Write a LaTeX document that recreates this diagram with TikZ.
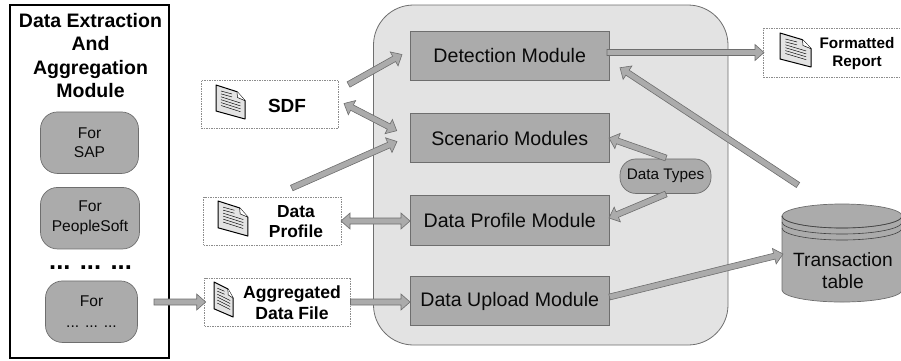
\documentclass[tikz,border=0pt]{standalone}
\usepackage{fontspec}
\setmainfont{Liberation Sans}
\usetikzlibrary{calc}
\definecolor{fillc}{HTML}{ABABAB}
\definecolor{edgec}{HTML}{6E6E6E}
\definecolor{panelc}{HTML}{E3E3E3}
\definecolor{dashc}{HTML}{8C8C8C}
\definecolor{inkc}{HTML}{0A0A0A}
\newcommand\fs[2]{\fontsize{#1}{#2}\selectfont}
\tikzset{
  x=1pt,y=-1pt,
  modbox/.style={draw=edgec,fill=fillc,line width=.8pt,inner sep=0pt,minimum width=199.5pt,minimum height=49.5pt,text=inkc,font=\fs{19.6}{22}},
  srcbox/.style={draw=edgec,fill=fillc,line width=.7pt,rounded corners=17pt,inner sep=0pt,minimum height=61.5pt,align=center,text=inkc},
  filebox/.style={draw=dashc,dash pattern=on 1.5pt off 1pt,line width=.5pt,inner sep=0pt},
  boldlabel/.style={align=center,text=black,inner sep=0pt},
  oneway/.style={draw=edgec,fill=fillc,line width=.6pt,line join=miter,
    to path={($(\tikztostart)!3pt!90:(\tikztotarget)$)
      -- ($(\tikztotarget)!9pt!(\tikztostart)!3pt!-90:(\tikztostart)$)
      -- ($(\tikztotarget)!9pt!(\tikztostart)!8pt!-90:(\tikztostart)$)
      -- (\tikztotarget)
      -- ($(\tikztotarget)!9pt!(\tikztostart)!8pt!90:(\tikztostart)$)
      -- ($(\tikztotarget)!9pt!(\tikztostart)!3pt!90:(\tikztostart)$)
      -- ($(\tikztostart)!3pt!-90:(\tikztotarget)$) -- cycle}},
  twoway/.style={draw=edgec,fill=fillc,line width=.6pt,
    to path={(\tikztostart)
      -- ($(\tikztostart)!9pt!(\tikztotarget)!8pt!90:(\tikztotarget)$)
      -- ($(\tikztostart)!9pt!(\tikztotarget)!3pt!90:(\tikztotarget)$)
      -- ($(\tikztotarget)!9pt!(\tikztostart)!3pt!-90:(\tikztostart)$)
      -- ($(\tikztotarget)!9pt!(\tikztostart)!8pt!-90:(\tikztostart)$)
      -- (\tikztotarget)
      -- ($(\tikztotarget)!9pt!(\tikztostart)!8pt!90:(\tikztostart)$)
      -- ($(\tikztotarget)!9pt!(\tikztostart)!3pt!90:(\tikztostart)$)
      -- ($(\tikztostart)!9pt!(\tikztotarget)!3pt!-90:(\tikztotarget)$)
      -- ($(\tikztostart)!9pt!(\tikztotarget)!8pt!-90:(\tikztotarget)$)
      -- cycle}},
  pics/docicon/.style={code={
    \draw[fill=panelc,draw=black,line width=1pt,line join=round]
      (0,0) -- (21,6.7) -- (29,15.7) -- (29,34) -- (0,26) -- cycle;
    \draw[fill=white,draw=black,line width=.5pt] (21,6.7) -- (21.5,12.5) -- (29,15.7);
    \foreach \k in {0,1,2,3,4,5}{
      \draw[black,line width=.45pt] (5,{6+\k*2.9}) -- ({\k>1?24.5:16},{(\k>1?12.2:9)+\k*2.9});}
  }}
}
\begin{document}
\begin{tikzpicture}
\useasboundingbox (0,0) rectangle (901,360);
% panel
\node[draw=edgec,fill=panelc,line width=.8pt,rounded corners=40pt,inner sep=0pt,minimum width=354.5pt,minimum height=340pt] (panel) at (550.75,175) {};
% extraction frame
\node[draw=black,line width=2pt,inner sep=0pt,minimum width=159.5pt,minimum height=353pt] (frame) at (89.25,181.5) {};
\node[boldlabel,font=\fs{19.5}{23.6}\bfseries] (title) at (90.5,55.5) {Data Extraction\\And\\Aggregation\\Module};
\node[srcbox,minimum width=98pt,font=\fs{15.6}{18.5}] (sap) at (89.5,142.7) {For\\SAP};
\node[srcbox,minimum width=99pt,font=\fs{15.6}{20}] (peoplesoft) at (90,218.2) {For\\PeopleSoft};
\node[font=\fs{25.5}{27}\bfseries,inner sep=0pt,text=black] (dots) at (90.5,268) {... ... ...};
\node[srcbox,minimum width=92pt,font=\fs{15.6}{21}] (other) at (91.5,311.7) {For\\... ... ...};
% file boxes
\node[filebox,minimum width=137pt,minimum height=48pt] (sdf) at (269.5,104) {};
\node[boldlabel,font=\fs{19}{22}\bfseries] (sdftext) at (287,106) {SDF};
\pic[xscale=1,yscale=1] at (216,85) {docicon};
\node[filebox,minimum width=137.5pt,minimum height=48pt] (profile) at (272.25,221) {};
\node[boldlabel,font=\fs{17.4}{20.3}\bfseries] (profiletext) at (296,221.5) {Data\\Profile};
\pic[xscale=1.03,yscale=1.03] at (218,201) {docicon};
\node[filebox,minimum width=146pt,minimum height=48.5pt] (aggr) at (277.5,302) {};
\node[boldlabel,font=\fs{17.6}{20.5}\bfseries] (aggrtext) at (292,302.5) {Aggregated\\Data File};
\pic[xscale=.66,yscale=1.03] at (214,282) {docicon};
\node[filebox,minimum width=137.5pt,minimum height=49pt] (report) at (832.25,53) {};
\node[boldlabel,font=\fs{15.3}{18.5}\bfseries] (reporttext) at (857,53.5) {Formatted\\Report};
\pic[xscale=1.07,yscale=1] at (780,33) {docicon};
% modules
\node[modbox] (detect) at (509.75,55.75) {Detection Module};
\node[modbox] (scenario) at (509.75,138) {Scenario Modules};
\node[modbox] (dprofile) at (509.75,220.25) {Data Profile Module};
\node[modbox] (upload) at (509.75,301) {Data Upload Module};
\node[draw=edgec,fill=fillc,line width=.7pt,rounded corners=16pt,inner sep=0pt,minimum width=91pt,minimum height=34.5pt,font=\fs{15.3}{18},text=inkc] (types) at (665.5,176.2) {Data Types};
% cylinder
\draw[draw=edgec,fill=fillc,line width=.7pt] (782,216) -- (782,290) arc[start angle=180,end angle=0,x radius=60,y radius=12] -- (902,216) -- cycle;
\draw[draw=edgec,fill=fillc,line width=.7pt] (842,216) ellipse[x radius=60,y radius=12];
\draw[black!75,line width=.6pt] (782,216) arc[start angle=180,end angle=0,x radius=60,y radius=12];
\draw[black!75,line width=.6pt] (782,222) arc[start angle=180,end angle=0,x radius=60,y radius=12];
\draw[black!75,line width=.6pt] (782,228) arc[start angle=180,end angle=0,x radius=60,y radius=12];
\node[font=\fs{19.2}{22},align=center,inner sep=0pt,text=inkc] (trans) at (843,271) {Transaction\\table};
% connector ends
\coordinate (a1) at (348.5,84.5); \coordinate (b1) at (402,54.5);
\coordinate (a2) at (344,103.5); \coordinate (b2) at (396.7,130.7);
\coordinate (a3) at (291.7,188); \coordinate (b3) at (397,141.5);
\coordinate (a4) at (607,52.5); \coordinate (b4) at (764,52.5);
\coordinate (a5) at (798,185); \coordinate (b5) at (620,67.7);
\coordinate (a6) at (666,158); \coordinate (b6) at (609,138);
\coordinate (a7) at (666,194); \coordinate (b7) at (609,218);
\coordinate (a8) at (609.5,297); \coordinate (b8) at (783,254);
\coordinate (a9) at (341,221); \coordinate (b9) at (410,221);
\coordinate (a10) at (154,302); \coordinate (b10) at (205.7,302);
\coordinate (a11) at (350.5,302); \coordinate (b11) at (410,302);
\draw[oneway] (a1) to (b1);
\draw[twoway] (a2) to (b2);
\draw[oneway] (a3) to (b3);
\draw[oneway] (a4) to (b4);
\draw[oneway] (a5) to (b5);
\draw[oneway] (a6) to (b6);
\draw[oneway] (a7) to (b7);
\draw[oneway] (a8) to (b8);
\draw[twoway] (a9) to (b9);
\draw[oneway] (a10) to (b10);
\draw[oneway] (a11) to (b11);
\end{tikzpicture}
\end{document}
